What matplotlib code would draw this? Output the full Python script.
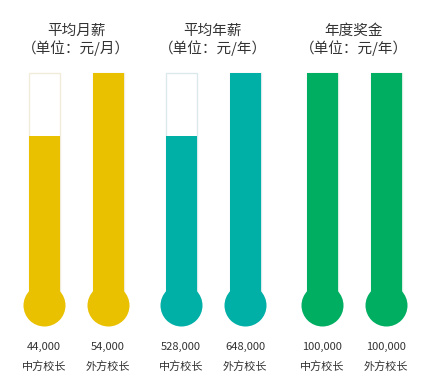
import matplotlib
matplotlib.use("Agg")
import matplotlib.pyplot as plt

plt.rcParams['font.family'] = ['Noto Sans CJK SC', 'DejaVu Sans']

# ---- data ----
group_titles = ["平均月薪\n（单位：元/月）", "平均年薪\n（单位：元/年）", "年度奖金\n（单位：元/年）"]
categories = ["中方校长", "外方校长"]
values_monthly = [44000, 54000]
values_annual = [528000, 648000]
values_bonus = [100000, 100000]
series = [values_monthly, values_annual, values_bonus]
colors = ["#E9C100", "#00AFA6", "#00AE62"]
edge_colors = ["#F1ECDA", "#DCE9EC", "#D6EDE0"]

# ---- layout ----
W, H, DPI = 426, 387, 100
fig = plt.figure(figsize=(W / DPI, H / DPI), dpi=DPI)
ax = fig.add_axes([0, 0, 1, 1])
ax.set_axis_off()

# y axis in "fraction of group max" units; pixel p -> (base_px - p)/scale
base_px, top_px = 413.0, 73.0
scale = base_px - top_px
def ypx(p):
    return (base_px - p) / scale
ax.set_xlim(0, W)
ax.set_ylim(ypx(H), ypx(0))

group_centers = [76, 213, 354]
half_gap = 32
tube_w = 31
bulb_y = ypx(305)
bulb_r_px = 21
bulb_s = (2 * bulb_r_px * 72 / DPI) ** 2

for gi, (vals, col, ecol) in enumerate(zip(series, colors, edge_colors)):
    gmax = max(vals)
    xs = [group_centers[gi] - half_gap, group_centers[gi] + half_gap]
    # empty tube
    ax.bar(xs, [1.0 - bulb_y] * 2, bottom=bulb_y, width=tube_w,
           facecolor="white", edgecolor=ecol, linewidth=1.0, zorder=1)
    # filled part
    fracs = [v / gmax for v in vals]
    ax.bar(xs, [f - bulb_y for f in fracs], bottom=bulb_y, width=tube_w,
           color=col, linewidth=0, zorder=2)
    # bulbs
    ax.scatter(xs, [bulb_y] * 2, s=bulb_s, color=col, linewidths=0, zorder=3)
    # title
    fig.text(group_centers[gi] / W, 1 - 40 / H, group_titles[gi], ha="center",
             va="center", fontsize=10.5, color="#333333", linespacing=1.25)
    # labels
    for x, v, c in zip(xs, vals, categories):
        fig.text(x / W, 1 - 347 / H, f"{v:,}", ha="center", va="center",
                 fontsize=8, color="#333333")
        fig.text(x / W, 1 - 366 / H, c, ha="center", va="center",
                 fontsize=8, color="#333333")

fig.savefig("out.png", dpi=DPI, facecolor="white")
